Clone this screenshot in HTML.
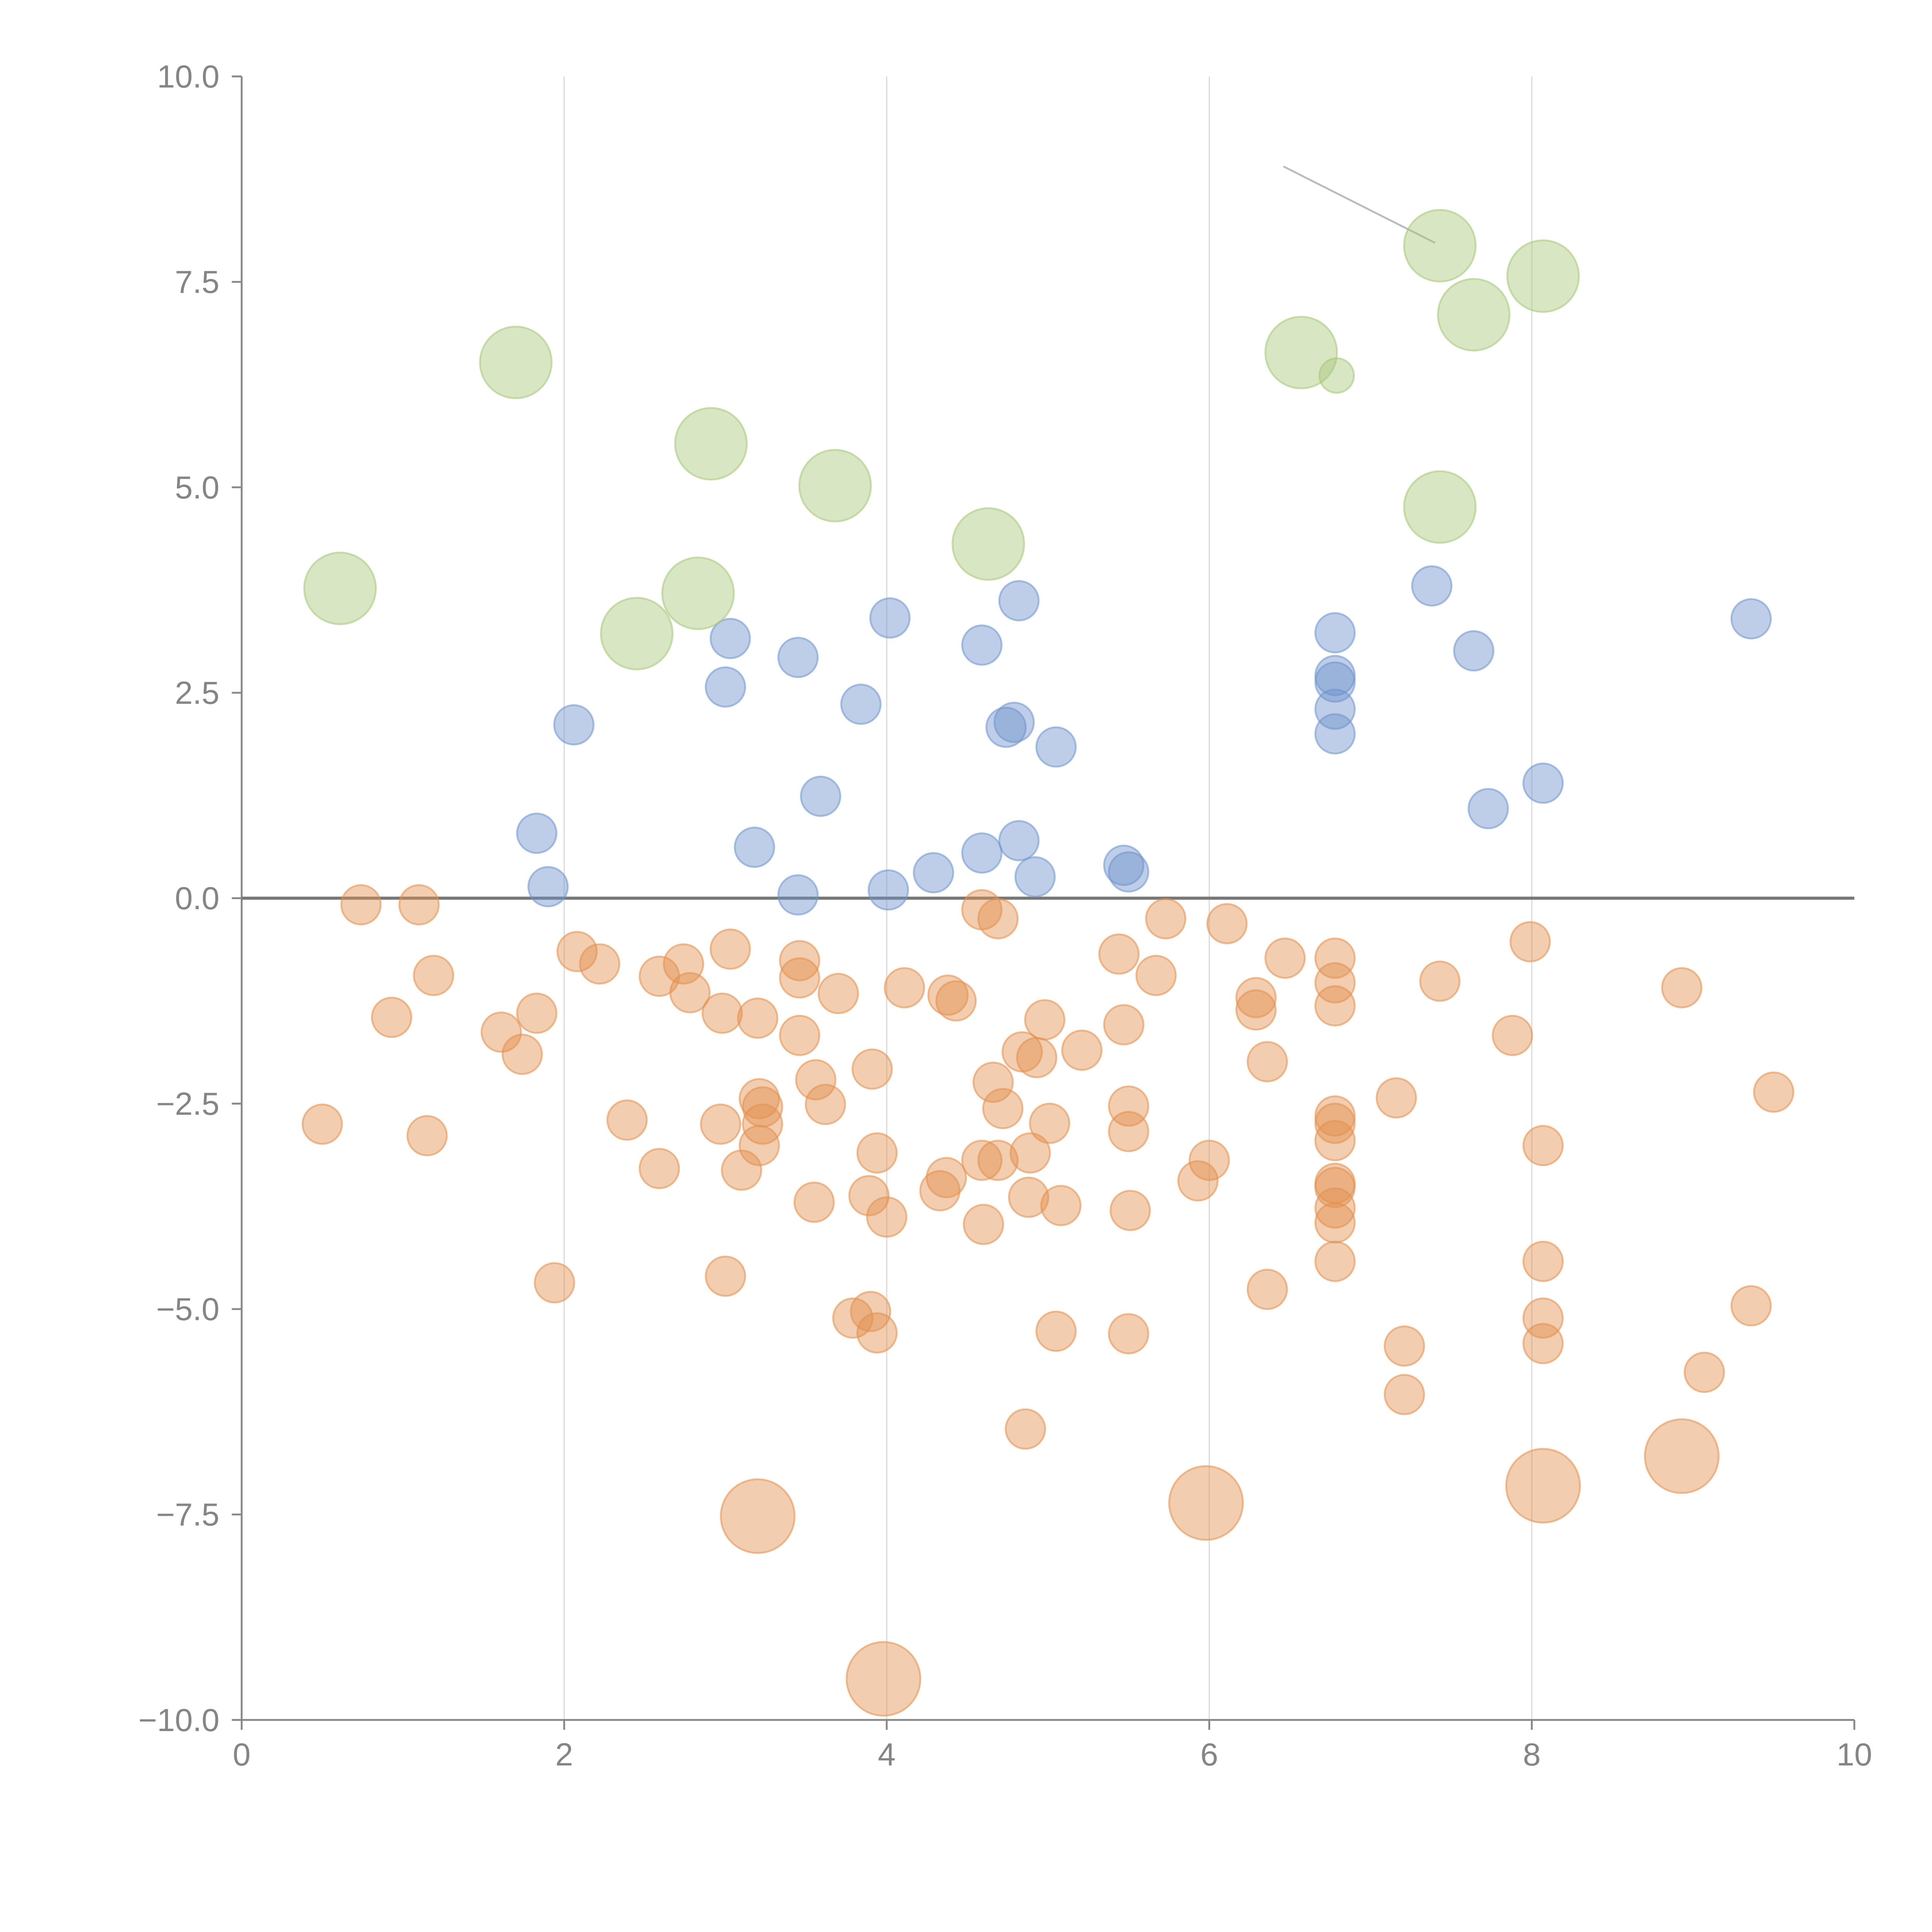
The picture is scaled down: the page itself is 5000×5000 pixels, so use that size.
<!DOCTYPE html>
<html><head><meta charset="utf-8">
<style>html,body{margin:0;padding:0;background:#fff;}svg{display:block;}</style>
</head><body>
<svg id="chart" width="5000" height="5000" viewBox="0 0 1567 1567" xmlns="http://www.w3.org/2000/svg" font-family="'Liberation Sans', sans-serif">
<g id="grid"></g>
<g id="axes"></g>
<g id="marks"></g>
</svg>
<script>
const xTicks = [0, 2, 4, 6, 8, 10];
const xTickLabels = ["0", "2", "4", "6", "8", "10"];
const yTicks = [10, 7.5, 5, 2.5, 0, -2.5, -5, -7.5, -10];
const yTickLabels = ["10.0", "7.5", "5.0", "2.5", "0.0", "\u22122.5", "\u22125.0", "\u22127.5", "\u221210.0"];

const greenX = [0.61,1.70,2.45,2.83,2.91,3.68,4.63,6.57,6.79,7.43,7.64,8.07,7.43];
const greenY = [3.77,6.52,3.22,3.71,5.53,5.02,4.31,6.64,6.36,7.94,7.10,7.57,4.76];
const greenS = [3.3,3.3,3.3,3.3,3.3,3.3,3.3,3.3,0.77,3.3,3.3,3.3,3.3];

const blueX = [1.83,1.90,2.06,3.00,3.03,3.18,3.45,3.45,3.59,3.84,4.01,4.02,4.29,4.59,4.59,4.74,4.79,4.82,4.82,4.92,5.05,5.47,5.50,6.78,6.78,6.78,6.78,6.78,7.38,7.64,7.73,8.07,9.36];
const blueY = [0.79,0.14,2.11,2.57,3.16,0.62,2.93,0.04,1.24,2.36,0.10,3.41,0.31,0.55,3.08,2.08,2.14,3.62,0.70,0.26,1.84,0.40,0.32,3.23,2.71,2.63,2.30,2.00,3.80,3.01,1.09,1.40,3.40];

const orangeX = [0.50,0.74,0.93,1.10,1.15,1.19,1.61,1.74,1.83,1.94,2.08,2.22,2.39,2.59,2.59,2.74,2.78,2.97,2.98,3.00,3.03,3.10,3.20,3.21,3.23,3.23,3.21,3.46,3.46,3.46,3.55,3.56,3.62,3.70,3.79,3.89,3.91,3.90,3.94,3.94,4.00,4.11,4.33,4.37,4.38,4.43,4.59,4.59,4.60,4.66,4.69,4.69,4.72,4.84,4.86,4.88,4.89,4.93,4.98,5.01,5.05,5.08,5.21,5.44,5.47,5.50,5.50,5.51,5.50,5.67,5.73,5.93,6.00,6.11,6.29,6.29,6.36,6.36,6.47,6.78,6.78,6.78,6.78,6.78,6.78,6.78,6.78,6.78,6.78,6.78,7.16,7.21,7.21,7.43,7.88,7.99,8.07,8.07,8.07,8.07,8.93,9.07,9.36,9.50,3.20,3.98,5.98,8.07,8.93];
const orangeY = [-2.75,-0.08,-1.45,-0.08,-2.89,-0.94,-1.63,-1.90,-1.40,-4.68,-0.65,-0.80,-2.70,-0.95,-3.29,-0.80,-1.15,-2.75,-1.40,-4.60,-0.62,-3.31,-1.46,-2.44,-2.54,-2.75,-3.01,-0.76,-0.97,-1.67,-3.70,-2.21,-2.51,-1.16,-5.11,-3.62,-2.08,-5.03,-3.10,-5.29,-3.88,-1.09,-3.56,-3.40,-1.18,-1.25,-0.14,-3.19,-3.97,-2.24,-0.25,-3.19,-2.56,-1.87,-6.46,-3.64,-3.10,-1.94,-1.48,-2.74,-5.27,-3.74,-1.85,-0.68,-1.54,-2.53,-2.84,-3.80,-5.30,-0.94,-0.25,-3.44,-3.19,-0.31,-1.21,-1.36,-1.99,-4.76,-0.73,-0.73,-1.03,-1.31,-2.65,-2.74,-2.95,-3.47,-3.52,-3.77,-3.95,-4.42,-2.43,-5.45,-6.04,-1.01,-1.67,-0.53,-3.01,-4.42,-5.11,-5.42,-1.09,-5.77,-4.96,-2.36,-7.52,-9.50,-7.36,-7.15,-6.79];
const orangeS = orangeX.map((_, i) => i >= orangeX.length - 5 ? 3.5 : 1);

const NS = "http://www.w3.org/2000/svg";
const X0 = 196, X1 = 1504, Y0 = 1395, Y1 = 62;
const xScale = v => X0 + (v - 0) / 10 * (X1 - X0);
const yScale = v => Y0 - (v + 10) / 20 * (Y0 - Y1);
const rScale = s => 16 * Math.sqrt(s);

function mk(tag, attrs, parent) {
  const el = document.createElementNS(NS, tag);
  for (const k in attrs) el.setAttribute(k, attrs[k]);
  parent.appendChild(el);
  return el;
}
const grid = document.getElementById('grid');
const axes = document.getElementById('axes');
const marks = document.getElementById('marks');

xTicks.forEach((t, i) => {
  if (t > 0 && t < 10) {
    const g = mk('line', {x1: xScale(t), x2: xScale(t), y1: Y1, y2: Y0, stroke: '#dcdcdc', 'stroke-width': 1}, grid);
    
    
  }
  const tk = mk('line', {x1: xScale(t), x2: xScale(t), y1: Y0, y2: Y0 + 8, stroke: '#888', 'stroke-width': 1.5}, axes);
  
  
  const tx = mk('text', {x: xScale(t), y: Y0 + 37, 'text-anchor': 'middle', 'font-size': 26, fill: '#858585'}, axes);
  tx.textContent = xTickLabels[i];
  
  
});
yTicks.forEach((t, i) => {
  const tk = mk('line', {x1: X0 - 8, x2: X0, y1: yScale(t), y2: yScale(t), stroke: '#888', 'stroke-width': 1.5}, axes);
  
  
  const tx = mk('text', {x: X0 - 18, y: yScale(t) + 9, 'text-anchor': 'end', 'font-size': 26, fill: '#858585'}, axes);
  tx.textContent = yTickLabels[i];
  
  
});
const xa = mk('line', {x1: X0, x2: X1, y1: Y0, y2: Y0, stroke: '#888', 'stroke-width': 1.5}, axes);


const ya = mk('line', {x1: X0, x2: X0, y1: Y1, y2: Y0, stroke: '#888', 'stroke-width': 1.5}, axes);


const zl = mk('line', {x1: X0, x2: X1, y1: yScale(0), y2: yScale(0), stroke: '#777', 'stroke-width': 2.5}, axes);


const ann = mk('line', {x1: 1041, y1: 135, x2: 1164, y2: 197, stroke: '#bbb', 'stroke-width': 1.5}, axes);



function drawSeries(xs, ys, ss, color, name) {
  xs.forEach((x, i) => {
    const c = mk('circle', {cx: xScale(x), cy: yScale(ys[i]), r: rScale(ss[i]), fill: color, 'fill-opacity': 0.45, stroke: color, 'stroke-opacity': 0.55, 'stroke-width': 1.5}, marks);
    
    
  });
}
drawSeries(orangeX, orangeY, orangeS, '#e2904e', 'orange-bubble');
drawSeries(blueX, blueY, blueX.map(() => 1), '#6f93cc', 'blue-bubble');
drawSeries(greenX, greenY, greenS, '#a8c779', 'green-bubble');
</script>
</body></html>
